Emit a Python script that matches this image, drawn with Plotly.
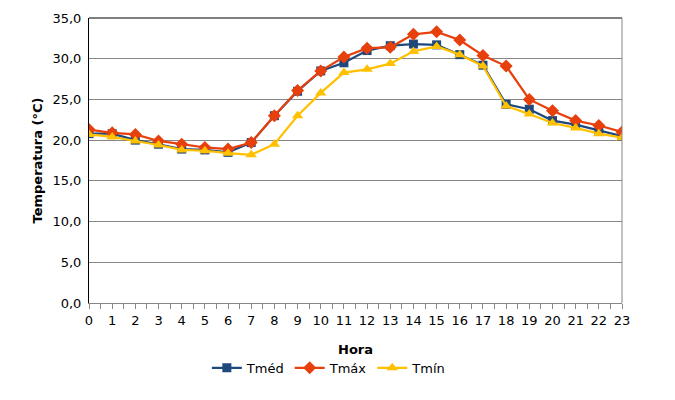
import plotly.graph_objects as go

# Temperatura horária média, máxima e mínima
horas = list(range(24))
t_med = [20.8, 20.8, 20.0, 19.5, 18.9, 18.8, 18.5, 19.7, 23.0, 26.0, 28.5, 29.5,
         31.0, 31.6, 31.8, 31.7, 30.5, 29.2, 24.4, 23.8, 22.4, 21.9, 21.2, 20.5]
t_max = [21.3, 20.9, 20.7, 19.9, 19.5, 19.1, 18.9, 19.7, 23.0, 26.1, 28.5, 30.2,
         31.3, 31.4, 33.0, 33.3, 32.3, 30.4, 29.1, 25.0, 23.6, 22.4, 21.8, 21.0]
t_min = [20.7, 20.4, 19.9, 19.4, 18.8, 18.7, 18.4, 18.2, 19.5, 23.0, 25.8, 28.3,
         28.7, 29.4, 30.9, 31.5, 30.5, 29.1, 24.2, 23.2, 22.1, 21.5, 20.8, 20.3]

FONT = 'DejaVu Sans'
GRID = '#868686'

fig = go.Figure()

fig.add_scatter(
    x=horas, y=t_med, mode='lines+markers', name='Tméd',
    line=dict(color='#1F497D', width=2.2),
    marker=dict(symbol='square', size=9, color='#1F497D'),
)
fig.add_scatter(
    x=horas, y=t_max, mode='lines+markers', name='Tmáx',
    line=dict(color='#E8400C', width=2.2),
    marker=dict(symbol='diamond', size=10, color='#E8400C'),
)
fig.add_scatter(
    x=horas, y=t_min, mode='lines+markers', name='Tmín',
    line=dict(color='#FFC000', width=2.2),
    marker=dict(symbol='triangle-up', size=10, color='#FFC000'),
)

# borda superior (preta) e direita (cinza) da área do gráfico
fig.add_shape(type='line', xref='paper', yref='paper', x0=0, x1=1, y0=1, y1=1,
              line=dict(color='black', width=1))
fig.add_shape(type='line', xref='paper', yref='paper', x0=1, x1=1, y0=0, y1=1,
              line=dict(color=GRID, width=1))

# a página HTML tem 8 px de margem no body, por isso 667x392
fig.update_layout(
    width=667, height=392,
    paper_bgcolor='white', plot_bgcolor='white',
    separators=',.',
    font=dict(family=FONT, size=13, color='black'),
    margin=dict(l=81, r=53, t=10, b=97),
    showlegend=True,
    legend=dict(orientation='h', x=0.45, xanchor='center', y=-0.175, yanchor='top',
                font=dict(size=13), itemwidth=30, tracegroupgap=0),
    xaxis=dict(
        range=[0, 23], tickmode='linear', tick0=0, dtick=1,
        showgrid=False, zeroline=False, automargin=False,
        showline=True, linecolor=GRID, linewidth=1,
        ticks='outside', ticklen=5, tickcolor=GRID,
        minor=dict(dtick=0.5, ticks='outside', ticklen=5, tickcolor=GRID),
        title=dict(text='<b>Hora</b>', font=dict(size=13), standoff=18),
        tickfont=dict(size=13),
    ),
    yaxis=dict(
        range=[0, 35], tickmode='linear', tick0=0, dtick=5, tickformat='.1f',
        showgrid=True, gridcolor=GRID, gridwidth=1, zeroline=False, automargin=False,
        showline=True, linecolor='black', linewidth=1,
        ticks='', ticklabelstandoff=4,
        title=dict(text='<b>Temperatura (°C)</b>', font=dict(size=13), standoff=6),
        tickfont=dict(size=13),
    ),
)

fig.write_html("out.html")
